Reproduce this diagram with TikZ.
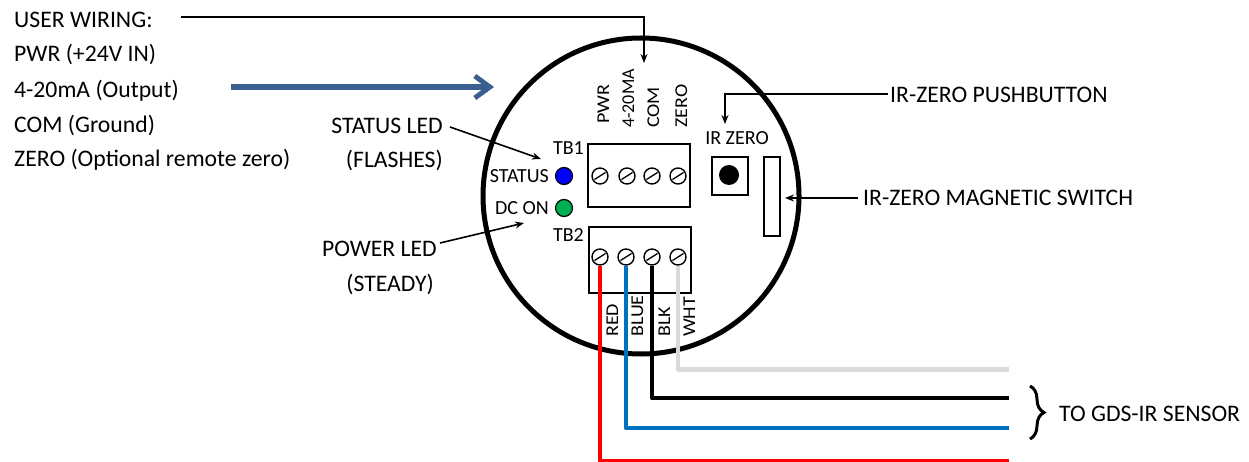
\documentclass[tikz,border=0pt]{standalone}
\usepackage{fontspec}
\setmainfont{Carlito}
\usetikzlibrary{arrows.meta}
\usetikzlibrary{decorations.pathreplacing}
\definecolor{arrowblue}{HTML}{3B5F8E}
\definecolor{wireblue}{HTML}{0070C0}
\definecolor{wirewht}{HTML}{D9D9D9}
\definecolor{ledgreen}{HTML}{00B050}
\tikzset{
    lbl/.style={inner sep=0pt, font=\fontsize{23.7}{28}\selectfont},
    smalllbl/.style={inner sep=0pt, font=\fontsize{20}{24}\selectfont},
    pinlbl/.style={inner sep=0pt, xscale=.9, font=\fontsize{20}{24}\selectfont},
    pointer/.style={-{Stealth[length=9pt,width=7pt]}, line width=1.6pt},
    wire/.style={line width=4.4pt},
    tbbox/.style={draw, line width=2pt},
    screw/.style={draw, circle, line width=1.4pt, minimum size=16pt, inner sep=0pt},
    led/.style={draw, circle, line width=1.2pt, minimum size=17pt, inner sep=0pt}
}
\begin{document}
\begin{tikzpicture}[x=1pt, y=-1pt]
    \useasboundingbox (0,0) rectangle (1249,462);
    \draw[line width=5pt] (641,196) circle (158);

    % left hand text
    \node[lbl, anchor=base west] (userlbl) at (14,28) {USER WIRING:};
    \node[lbl, anchor=base west] (pwrlbl) at (14,62) {PWR (+24V IN)};
    \node[lbl, anchor=base west] (outlbl) at (14,98) {4-20mA (Output)};
    \node[lbl, anchor=base west] (comlbl) at (14,133) {COM (Ground)};
    \node[lbl, anchor=base west] (zerolbl) at (14,167) {ZERO (Optional remote zero)};
    \node[lbl, anchor=base east] (statuslbl) at (443,134) {STATUS LED};
    \node[lbl, anchor=base east] (flasheslbl) at (443,168) {(FLASHES)};
    \node[lbl, anchor=base east] (powerlbl) at (437,256) {POWER LED};
    \node[lbl, anchor=base east] (steadylbl) at (434,291) {(STEADY)};

    % right hand text
    \node[lbl, anchor=base west] (pushlbl) at (890,103) {IR-ZERO PUSHBUTTON};
    \node[lbl, anchor=base west] (magnetlbl) at (863,206) {IR-ZERO MAGNETIC SWITCH};
    \node[lbl, anchor=base west] (sensorlbl) at (1059,421) {TO GDS-IR SENSOR};

    % terminal blocks
    \node[tbbox, minimum width=102pt, minimum height=63pt, inner sep=0pt] (tbone) at (639,176) {};
    \node[tbbox, minimum width=102pt, minimum height=65pt, inner sep=0pt] (tbtwo) at (640,260) {};
    \node[smalllbl, anchor=east] (tbonelbl) at (584,148) {TB1};
    \node[smalllbl, anchor=east] (tbtwolbl) at (584,235) {TB2};

    % screws
    \foreach \name/\xx in {a/600, b/627, c/652, d/678} {
        \node[screw] (one\name) at (\xx,176) {};
        \draw[line width=1.3pt] (\xx-5.5,179.5) -- (\xx+5.5,172.5);
    }
    \foreach \name/\xx in {a/600, b/626, c/652, d/678} {
        \node[screw] (two\name) at (\xx,257) {};
        \draw[line width=1.3pt] (\xx-5.5,260.5) -- (\xx+5.5,253.5);
    }

    % rotated terminal names
    \node[pinlbl, rotate=90, anchor=base west] (pina) at (609,124) {PWR};
    \node[inner sep=0pt, font=\fontsize{18}{22}\selectfont, rotate=90, anchor=base west] (pinb) at (634,128) {4-20MA};
    \foreach \name/\xx/\txt in {c/659/COM, d/687/ZERO} {
        \node[pinlbl, rotate=90, anchor=base west] (pin\name) at (\xx,128) {\txt};
    }
    \foreach \name/\xx/\txt in {a/618/RED, b/643/BLUE, c/670/BLK, d/695/WHT} {
        \node[pinlbl, rotate=90, anchor=base west] (col\name) at (\xx,337) {\txt};
    }

    % leds
    \node[led, fill=blue] (statusled) at (564,176) {};
    \node[led, fill=ledgreen] (dcled) at (564,208) {};
    \node[smalllbl, anchor=east] (statustxt) at (549,176) {STATUS};
    \node[smalllbl, anchor=east] (dctxt) at (549,208) {DC ON};

    % pushbutton and magnet
    \node[smalllbl] (irzerolbl) at (737,138) {IR ZERO};
    \node[draw, line width=2pt, minimum width=36pt, minimum height=38pt, inner sep=0pt] (buttonbox) at (730,176) {};
    \node[circle, fill=black, minimum size=20pt, inner sep=0pt] (buttondot) at (729,175) {};
    \node[draw, line width=2pt, minimum width=16pt, minimum height=79pt, inner sep=0pt] (magnet) at (772,197) {};

    % pointers
    \coordinate (userstart) at (181,17);
    \coordinate (usertip) at (644,63);
    \coordinate (pushstart) at (888,94);
    \coordinate (pushtip) at (725,124);
    \coordinate (magnetstart) at (858,198);
    \coordinate (magnettip) at (785,198);
    \coordinate (statusstart) at (450,127);
    \coordinate (statustip) at (541,159);
    \coordinate (powerstart) at (440,243);
    \coordinate (powertip) at (524,223);
    \coordinate (bluestart) at (231,87);
    \coordinate (bluetip) at (494,87);
    \draw[pointer] (userstart) -| (usertip);
    \draw[pointer] (pushstart) -| (pushtip);
    \draw[pointer] (magnetstart) -- (magnettip);
    \draw[pointer] (statusstart) -- (statustip);
    \draw[pointer] (powerstart) -- (powertip);
    \draw[-{Straight Barb[length=15pt,width=22pt,line width=5pt]}, line width=5.5pt, arrowblue] (bluestart) -- (bluetip);

    % wires
    \coordinate (redend) at (1009,461);
    \coordinate (blueend) at (1009,428);
    \coordinate (blackend) at (1009,398);
    \coordinate (whtend) at (1009,369.5);
    \draw[wire, red, line join=round] (twoa.south) |- (redend);
    \draw[wire, wireblue, line join=round] (twob.south) |- (blueend);
    \draw[wire, black, line join=round] (twoc.south) |- (blackend);
    \draw[wire, wirewht, line join=round] (twod.south) |- (whtend);

    % brace
    \coordinate (bracetop) at (1030,386);
    \coordinate (bracebot) at (1030,439);
    \draw[decorate, decoration={brace, amplitude=14pt}, line width=3pt] (bracetop) -- (bracebot);
\end{tikzpicture}
\end{document}
